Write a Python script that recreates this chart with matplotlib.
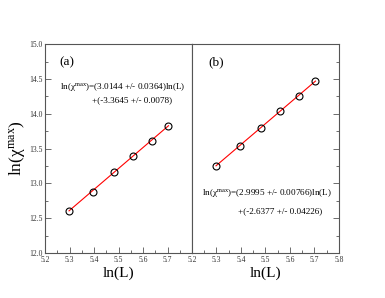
import numpy as np
import matplotlib
matplotlib.use("Agg")
import matplotlib.pyplot as plt
from matplotlib.ticker import MultipleLocator

plt.rcParams['font.family'] = ['Liberation Serif', 'DejaVu Serif']
plt.rcParams['mathtext.fontset'] = 'custom'
plt.rcParams['mathtext.rm'] = 'Liberation Serif'
plt.rcParams['mathtext.it'] = 'Liberation Serif:italic'

# data
lnL = [5.298, 5.394, 5.481, 5.561, 5.635, 5.704]
chi_a = [12.61, 12.87, 13.17, 13.39, 13.61, 13.82]
chi_b = [13.25, 13.54, 13.80, 14.04, 14.26, 14.47]
fit_a = [3.0144, -3.3645]
fit_b = [2.9995, -2.6377]
eq_a = ["ln(\u03c7$^{\\rm max}$)=(3.0144 +/- 0.0364)ln(L)", "+(-3.3645 +/- 0.0078)"]
eq_b = ["ln(\u03c7$^{\\rm max}$)=(2.9995 +/- 0.00766)ln(L)", "+(-2.6377 +/- 0.04226)"]

fig = plt.figure(figsize=(3.85, 2.98), dpi=100)
axa = fig.add_axes([0.1169, 0.151, 0.3818, 0.7003])
axb = fig.add_axes([0.4987, 0.151, 0.3818, 0.7003])

edge = '#555555'
for ax, y, fit in [(axa, chi_a, fit_a), (axb, chi_b, fit_b)]:
    x = np.array(lnL)
    ax.plot(x, fit[0] * x + fit[1], color='red', lw=0.8, zorder=2)
    ax.plot(x, y, 'o', mfc='none', mec='black', ms=5, mew=0.8, zorder=3)
    ax.set_xlim(5.2, 5.8)
    ax.set_ylim(12.0, 15.0)
    ax.xaxis.set_major_locator(MultipleLocator(0.1))
    ax.xaxis.set_minor_locator(MultipleLocator(0.05))
    ax.yaxis.set_major_locator(MultipleLocator(0.5))
    ax.yaxis.set_minor_locator(MultipleLocator(0.25))
    ax.tick_params(which='both', direction='in', labelsize=5.5, colors=edge,
                   labelcolor='#333333', width=0.6, pad=2)
    ax.tick_params(which='major', length=4)
    ax.tick_params(which='minor', length=2)
    for s in ax.spines.values():
        s.set_color(edge)
        s.set_linewidth(0.8)
    ax.set_xlabel('ln(L)', fontsize=11, labelpad=2)

axa.xaxis.set_major_formatter(plt.FuncFormatter(lambda v, p: '' if abs(v - 5.8) < 1e-6 else '%.1f' % v))
axa.yaxis.set_major_formatter(plt.FuncFormatter(lambda v, p: '%.1f' % v))
axa.set_ylabel('ln(\u03c7$^{\\rm max}$)', fontsize=12.5, labelpad=1)
axb.tick_params(axis='y', which='both', left=False, right=True, labelleft=False)

fs = 6.6
axa.text(0.10, 0.915, '(a)', transform=axa.transAxes, fontsize=9.5, va='center')
axa.text(0.10, 0.795, eq_a[0], transform=axa.transAxes, fontsize=fs, va='center')
axa.text(0.32, 0.732, eq_a[1], transform=axa.transAxes, fontsize=fs, va='center')
axb.text(0.11, 0.915, '(b)', transform=axb.transAxes, fontsize=9.5, va='center')
axb.text(0.07, 0.286, eq_b[0], transform=axb.transAxes, fontsize=fs, va='center')
axb.text(0.31, 0.20, eq_b[1], transform=axb.transAxes, fontsize=fs, va='center')

fig.savefig('out.png', dpi=100)
